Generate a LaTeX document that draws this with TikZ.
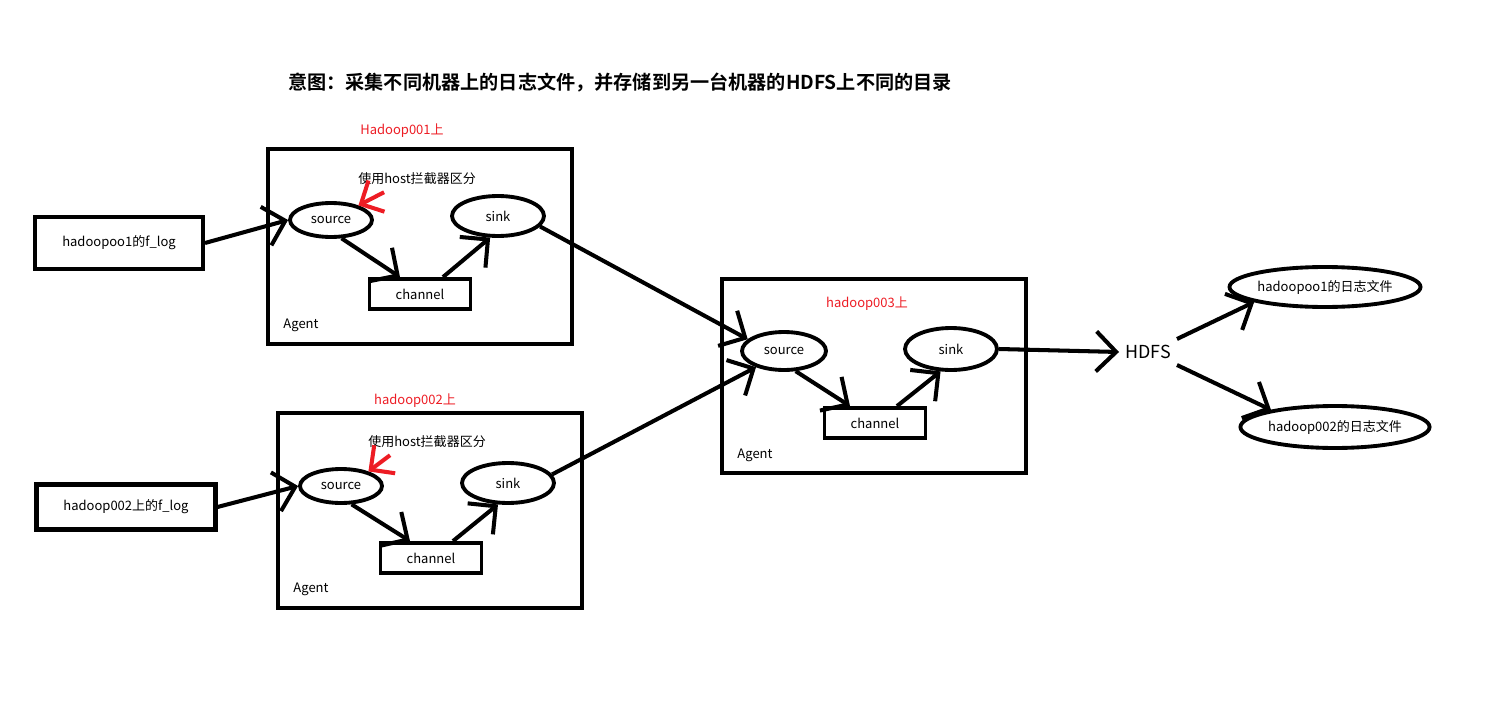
\documentclass[tikz,border=0pt]{standalone}
\usepackage{fontspec}
\setmainfont{Noto Sans CJK SC}[BoldFont=Noto Sans CJK SC Bold]
\usetikzlibrary{shapes.geometric,arrows.meta,calc}
\definecolor{notered}{RGB}{237,28,36}

\begin{document}
\begin{tikzpicture}[x=0.02cm,y=-0.02cm,
    agentbox/.style={line width=2.3pt},
    part/.style={draw,ellipse,line width=2.2pt,inner sep=0pt,font=\fontsize{7.4pt}{9pt}\selectfont},
    chanbox/.style={draw,rectangle,line width=2.2pt,minimum width=2.02cm,minimum height=0.6cm,font=\fontsize{7.4pt}{9pt}\selectfont},
    logbox/.style={draw,rectangle,line width=2.3pt,font=\fontsize{7.4pt}{9pt}\selectfont},
    small/.style={font=\fontsize{7.4pt}{9pt}\selectfont},
    host/.style={text=notered,font=\fontsize{7.4pt}{9pt}\selectfont},
    flow/.style={line width=2.3pt,-{Straight Barb[length=4mm,width=8mm]}},
    hint/.style={draw=notered,line width=2.3pt,-{Straight Barb[length=3.5mm,width=7mm]}}]
  \useasboundingbox (0,0) rectangle (1509,710);

  % Title
  \node[font=\fontsize{10.9pt}{13pt}\selectfont\bfseries] (title) at (620,83) {意图：采集不同机器上的日志文件，并存储到另一台机器的HDFS上不同的目录};

  % First agent on Hadoop001
  \draw[agentbox] (268,149) rectangle (572,344);
  \node[host] (h1) at (402,131) {Hadoop001上};
  \node[small] (note1) at (417,179) {使用host拦截器区分};
  \node[part,minimum width=1.64cm,minimum height=0.68cm] (src1) at (331,220) {source};
  \node[part,minimum width=1.84cm,minimum height=0.8cm] (snk1) at (498,216) {sink};
  \node[chanbox] (ch1) at (420,294) {channel};
  \node[small] (ag1) at (301,325) {Agent};
  \node[logbox,minimum width=3.36cm,minimum height=1.04cm] (in1) at (119,243) {hadoopoo1的f\_log};

  % Second agent on hadoop002
  \draw[agentbox] (278,413) rectangle (582,608);
  \node[host] (h2) at (415,401) {hadoop002上};
  \node[small] (note2) at (427,442) {使用host拦截器区分};
  \node[part,minimum width=1.64cm,minimum height=0.68cm] (src2) at (341,486) {source};
  \node[part,minimum width=1.84cm,minimum height=0.8cm] (snk2) at (508,483) {sink};
  \node[chanbox] (ch2) at (431,558) {channel};
  \node[small] (ag2) at (311,589) {Agent};
  \node[logbox,minimum width=3.58cm,minimum height=0.9cm] (in2) at (126,507) {hadoop002上的f\_log};

  % Collecting agent on hadoop003
  \draw[agentbox] (722,279) rectangle (1026,473);
  \node[host] (h3) at (867,304) {hadoop003上};
  \node[part,minimum width=1.68cm,minimum height=0.76cm] (src3) at (784,351) {source};
  \node[part,minimum width=1.84cm,minimum height=0.84cm] (snk3) at (951,349) {sink};
  \node[chanbox] (ch3) at (875,423) {channel};
  \node[small] (ag3) at (755,455) {Agent};

  % HDFS and target directories
  \node[font=\fontsize{10.2pt}{12pt}\selectfont] (hdfs) at (1148,352) {HDFS};
  \node[part,minimum width=3.48cm,minimum height=0.8cm] (f1) at (1325,287) {hadoopoo1的日志文件};
  \node[part,minimum width=3.28cm,minimum height=0.84cm] (f2) at (1335,427) {hadoop002的日志文件};

  % Flows inside the agents
  \draw[flow] (in1.east) -- (src1.west);
  \draw[flow] (src1.-60) -- ($(ch1.north)+(-20,0)$);
  \draw[flow] ($(ch1.north)+(23,0)$) -- (snk1.-110);
  \draw[flow] (in2.east) -- (src2.west);
  \draw[flow] (src2.-60) -- ($(ch2.north)+(-21,0)$);
  \draw[flow] ($(ch2.north)+(22,0)$) -- (snk2.-115);
  \draw[flow] (src3.-60) -- ($(ch3.north)+(-25,0)$);
  \draw[flow] ($(ch3.north)+(22,0)$) -- (snk3.-115);

  % Flows between the agents
  \draw[flow] (snk1.-14) -- (src3.162);
  \draw[flow] (snk2.11) -- (src3.-150);
  \draw[flow] (snk3.east) -- (hdfs.west);
  \draw[flow] (hdfs.north east) -- (f1.-168);
  \draw[flow] (hdfs.south east) -- (f2.165);

  % Red hints to the sources
  \draw[hint] ($(note1.south west)+(32,1)$) -- (src1.28);
  \draw[hint] ($(note2.south west)+(28,1)$) -- (src2.28);
\end{tikzpicture}
\end{document}
